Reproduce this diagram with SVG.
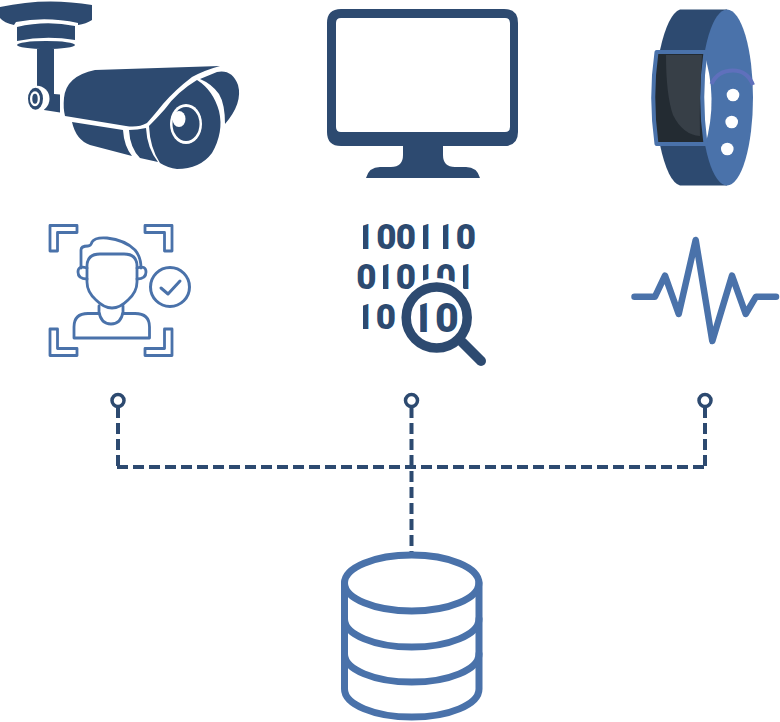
<svg xmlns="http://www.w3.org/2000/svg" width="780" height="722" viewBox="0 0 780 722">
<defs>
<style>
.d{fill:#2d4a70}
.b{fill:#4a72aa}
.w{fill:#fff}
.ol{fill:none;stroke:#4a72aa;stroke-linecap:round;stroke-linejoin:round}
.dig{font-family:"Roboto","Liberation Sans",sans-serif;font-weight:900;font-size:35px;fill:#2d4a70;text-anchor:middle}
.big{font-size:41px}
.con{fill:none;stroke:#2d4a70;stroke-width:4;stroke-dasharray:11 5}
.dot{fill:#fff;stroke:#2d4a70;stroke-width:3.5}
</style>
<clipPath id="bars">
<rect x="363" y="223" width="6" height="26"/>
<rect x="423" y="223" width="6" height="26"/>
<rect x="443" y="223" width="6" height="26"/>
<rect x="383" y="263" width="6" height="27"/>
<rect x="423" y="263" width="6" height="27"/>
<rect x="463" y="263" width="6" height="27"/>
<rect x="363" y="303" width="6" height="27"/>
<rect x="420.200" y="302" width="7.600" height="31"/>
</clipPath>
</defs>
<rect width="780" height="722" fill="#fff"/>
<g id="camera">
<path class="d" d="M0 7Q45 -3 92 5L92 20Q86 24 78 25L78 23Q46 16 16 22L14 25Q4 23 0 18Z"/>
<path class="d" d="M17 27Q46 20 75 26L75 40Q46 35 17 41Z"/>
<ellipse class="d" cx="46" cy="45" rx="29" ry="4"/>
<path class="d" d="M37 49L54 49L54 94L60 94.500L60 112.500L44 110L37 92Z"/>
<ellipse class="w" cx="37" cy="98.700" rx="12.500" ry="13"/>
<ellipse class="d" cx="35.500" cy="98.700" rx="7.500" ry="11"/>
<ellipse class="w" cx="35" cy="98.700" rx="5" ry="7.500"/>
<ellipse class="d" cx="35" cy="98.700" rx="2.700" ry="5"/>
<path class="d" d="M65 116Q63 108 64 98Q66 76 95 70L220 66Q205 70 192 77Q175 90 163 104Q155 114 147 123Q138 128 126 126Z"/>
<path class="d" d="M200 79L217 72Q232 69 238 85Q243 103 225 124Q225 104 219 94Q212 84 200 79Z"/>
<path class="d" d="M197 80Q213 90 219 111Q224 132 212 153Q200 169 177 169Q168 168 160 163Q150 148 149 126Q157 118 165 109Q177 92 197 80Z"/>
<ellipse class="w" cx="186" cy="124" rx="16" ry="20"/>
<ellipse class="d" cx="186" cy="124" rx="13.500" ry="17"/>
<ellipse class="w" cx="179" cy="119" rx="6.500" ry="8"/>
<path class="d" d="M129 130Q137 130 146 128Q147 148 158 162L140 158Q130 148 129 130Z"/>
<path class="d" d="M72 122L123 130Q124 146 132 156L90 145Q76 140 72 122Z"/>
</g>
<g id="monitor">
<path class="d" fill-rule="evenodd" d="M341 9H504Q518 9 518 23V132Q518 146 504 146H443V155Q443 167 455 167H466Q477 167 480 178H366Q369 167 380 167H391Q403 167 403 155V146H341Q327 146 327 132V23Q327 9 341 9ZM341 18Q336 18 336 23V127Q336 132 341 132H505Q510 132 510 127V23Q510 18 505 18Z"/>
</g>
<g id="wristband">
<path class="d" d="M680 9.500H727V185.500H680Q668 182 660 145V50Q668 14 680 9.500Z"/>
<ellipse class="b" cx="727" cy="97.500" rx="26" ry="88"/>
<path class="w" d="M703 50Q719 97 705 146H699V50Z"/>
<path fill="none" stroke="#5f70bc" stroke-width="4" d="M711.500 84C716 74 724 70.500 733 70.500C742 70.500 749 75 753 85"/>
<circle class="w" cx="733" cy="95" r="6.300"/>
<circle class="w" cx="731.700" cy="122" r="6.300"/>
<circle class="w" cx="727.300" cy="149" r="6.300"/>
<path fill="#232b32" stroke="#4a72aa" stroke-width="4" stroke-linejoin="round" d="M656.500 52H705.500Q699 97 705.500 144H656.500Q650 97 656.500 52Z"/>
<path fill="#373f47" d="M666 55H702Q699 97 700 136Q683 135 673 115Q666 95 666 55Z"/>
</g>
<g id="face-recognition">
<path class="ol" stroke-width="2.800" d="M50 251V225.500H77V232.500H57.500V251Z"/>
<path class="ol" stroke-width="2.800" d="M172 251V225.500H145V232.500H164.500V251Z"/>
<path class="ol" stroke-width="2.800" d="M50 329V355.500H77V348.500H57.500V329Z"/>
<path class="ol" stroke-width="2.800" d="M172 329V355.500H145V348.500H164.500V329Z"/>
<path class="ol" stroke-width="2.800" d="M81 268V250Q81 246 88 246Q91 246 92 242Q95 237 107 238Q125 240 135 250Q141 257 141 268"/>
<path class="w ol" stroke-width="2.800" d="M87 266Q87 254 100 254H124Q137 254 137 266V282Q137 292 128 300Q120 308 112 308Q104 308 96 300Q87 292 87 282Z"/>
<path class="ol" stroke-width="2.800" d="M87 268Q78 265 78 272Q78 279 87 279M137 268Q146 265 146 272Q146 279 137 279"/>
<path class="ol" stroke-width="2.800" d="M99 306V312Q101 324 111 324Q121 324 123 312V306"/>
<path class="ol" stroke-width="2.800" d="M99 313.500H88Q74 313.500 74 327V338H149.500V327Q149.500 313.500 135 313.500H123"/>
<circle class="ol" stroke-width="3" cx="170" cy="287" r="19.500"/>
<path class="ol" stroke-width="3" d="M161 288L168 294L180 281"/>
</g>
<g id="binary-search">
<text class="dig" x="386.500" y="248.500">0</text>
<text class="dig" x="406" y="248.500">0</text>
<text class="dig" x="466" y="248.500">0</text>
<text class="dig" x="366.500" y="289">0</text>
<text class="dig" x="406" y="289">0</text>
<text class="dig" x="446" y="289">0</text>
<text class="dig" x="386" y="329">0</text>
<g clip-path="url(#bars)">
<text class="dig" x="364.200" y="248.500">1</text>
<text class="dig" x="424.200" y="248.500">1</text>
<text class="dig" x="444.200" y="248.500">1</text>
<text class="dig" x="384.200" y="289">1</text>
<text class="dig" x="424.200" y="289">1</text>
<text class="dig" x="464.200" y="289">1</text>
<text class="dig" x="364.200" y="329">1</text>
</g>
<circle cx="436.700" cy="317.500" r="39.500" fill="#fff"/>
<g clip-path="url(#bars)"><text class="dig big" x="422" y="331.500">1</text></g>
<text class="dig big" x="447" y="331.500">0</text>
<circle cx="436.700" cy="317.500" r="30.500" fill="none" stroke="#2d4a70" stroke-width="9.500"/>
<path fill="none" stroke="#2d4a70" stroke-width="10" stroke-linecap="round" d="M462 342L481 361"/>
</g>
<g id="heartbeat">
<path class="ol" stroke-width="6.500" d="M634.500 296.700H655L665 275.700L678.700 314L695.700 240L712.300 341L732 275.700L745.700 314L756 296.700H776"/>
</g>
<g id="connectors">
<path class="con" d="M118 407V466"/>
<path class="con" d="M117 467H707"/>
<path class="con" d="M705 407V466"/>
<path class="con" d="M411.500 407V552"/>
<circle class="dot" cx="118" cy="400.500" r="6"/>
<circle class="dot" cx="411.500" cy="400.500" r="6"/>
<circle class="dot" cx="705" cy="400.500" r="6"/>
</g>
<g id="database">
<path class="ol" stroke-width="7" d="M344.500 583V689A67 28 0 0 0 479 689V583"/>
<ellipse class="ol" stroke-width="7" cx="411.700" cy="583" rx="67.200" ry="28"/>
<path class="ol" stroke-width="7" d="M344.500 619A67 28 0 0 0 479 619"/>
<path class="ol" stroke-width="7" d="M344.500 654A67 28 0 0 0 479 654"/>
</g>
</svg>
